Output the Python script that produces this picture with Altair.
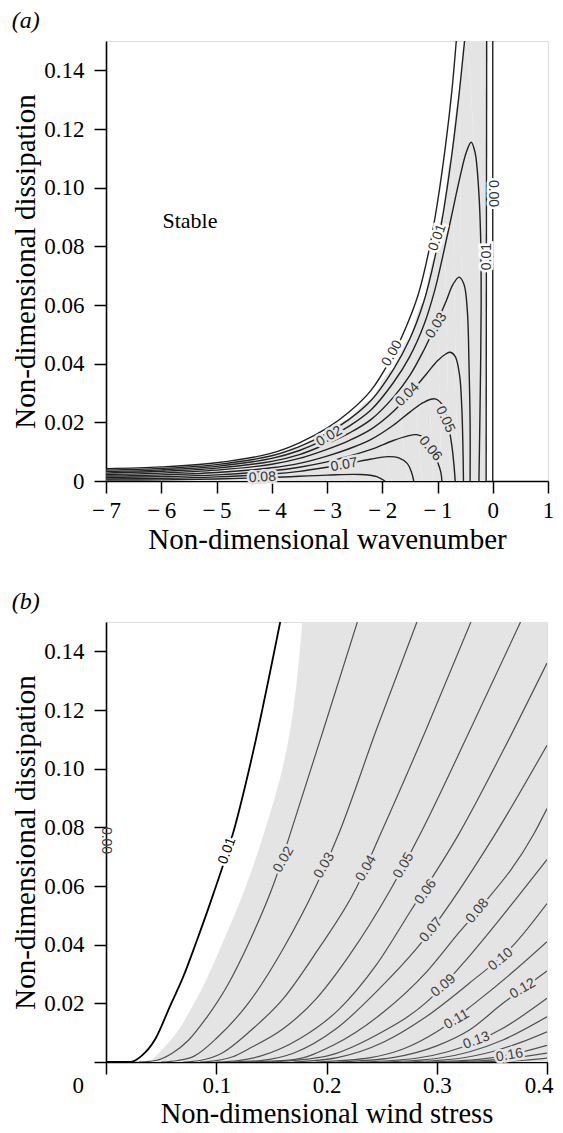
import altair as alt
import pandas as pd

SERIF = "Liberation Serif"
SANS = "Liberation Sans"
SHADE = "#e4e4e4"

# ---------------- Panel (a): growth-rate contours ----------------
A00L_X = [-7.0, -6.0, -5.0, -4.0, -3.5, -3.0, -2.6, -2.2, -1.82, -1.58, -1.35, -1.15, -1.0, -0.85, -0.74, -0.66]
A00L_Y = [0.0042, 0.0048, 0.0062, 0.0095, 0.013, 0.018, 0.0235, 0.031, 0.0425, 0.052, 0.0635, 0.079, 0.095, 0.115, 0.133, 0.15]
A00R_X = [0.0, 0.0]
A00R_Y = [0.15, 0.0]
A01L_X = [-7.0, -6.0, -5.0, -4.0, -3.5, -3.0, -2.6, -2.2, -1.8, -1.5, -1.25, -1.05, -0.9, -0.75, -0.62, -0.51]
A01L_Y = [0.0037, 0.0043, 0.0056, 0.0086, 0.0117, 0.0162, 0.021, 0.0275, 0.038, 0.0485, 0.061, 0.076, 0.091, 0.11, 0.13, 0.15]
A01R_X = [-0.11, -0.12]
A01R_Y = [0.15, 0.0]
A02_X = [-7.0, -6.0, -5.0, -4.0, -3.5, -3.0, -2.6, -2.2, -1.8, -1.5, -1.25, -1.05, -0.9, -0.75, -0.6, -0.48, -0.39, -0.32, -0.26, -0.22, -0.21, -0.23, -0.25]
A02_Y = [0.0032, 0.0038, 0.005, 0.0077, 0.0104, 0.0145, 0.0187, 0.0243, 0.0335, 0.0425, 0.053, 0.065, 0.077, 0.09, 0.103, 0.112, 0.1155, 0.112, 0.1008, 0.0837, 0.06, 0.025, 0.0]
A03_X = [-7.0, -6.0, -5.0, -4.0, -3.5, -3.0, -2.6, -2.2, -1.8, -1.5, -1.25, -1.0, -0.85, -0.72, -0.61, -0.52, -0.46, -0.43, -0.41, -0.41]
A03_Y = [0.0027, 0.0033, 0.0044, 0.0067, 0.009, 0.0127, 0.0163, 0.021, 0.0285, 0.036, 0.0445, 0.0545, 0.061, 0.067, 0.0695, 0.067, 0.058, 0.04, 0.02, 0.0]
A04_X = [-7.0, -6.0, -5.0, -4.0, -3.5, -3.0, -2.6, -2.2, -1.8, -1.5, -1.2, -1.0, -0.85, -0.77, -0.68, -0.6, -0.56, -0.54, -0.53]
A04_Y = [0.0022, 0.0027, 0.0037, 0.0057, 0.0077, 0.0108, 0.0138, 0.0177, 0.0237, 0.0298, 0.0365, 0.041, 0.0433, 0.0439, 0.0425, 0.036, 0.025, 0.012, 0.0]
A05_X = [-7.0, -6.0, -5.0, -4.0, -3.5, -3.0, -2.6, -2.2, -1.8, -1.5, -1.25, -1.05, -0.92, -0.82, -0.74, -0.7, -0.68]
A05_Y = [0.0017, 0.0021, 0.0029, 0.0045, 0.006, 0.0085, 0.011, 0.0142, 0.019, 0.0235, 0.0268, 0.028, 0.0262, 0.0205, 0.012, 0.005, 0.0]
A06_X = [-7.0, -6.0, -5.0, -4.0, -3.5, -3.0, -2.6, -2.2, -1.8, -1.55, -1.38, -1.22, -1.1, -1.0, -0.94, -0.92]
A06_Y = [0.0012, 0.0015, 0.0021, 0.0035, 0.0047, 0.0065, 0.0085, 0.0108, 0.0138, 0.0153, 0.0158, 0.0145, 0.011, 0.0065, 0.003, 0.0]
A07_X = [-7.0, -6.0, -5.0, -4.0, -3.5, -3.0, -2.6, -2.2, -1.9, -1.7, -1.55, -1.47, -1.43]
A07_Y = [0.0007, 0.0009, 0.0014, 0.0024, 0.0033, 0.0047, 0.006, 0.0075, 0.0083, 0.0079, 0.006, 0.003, 0.0]
A08_X = [-7.0, -6.0, -5.0, -4.0, -3.0, -2.4, -2.1, -1.95]
A08_Y = [0.0003, 0.0004, 0.0007, 0.0012, 0.002, 0.0022, 0.0015, 0.0]

A_LAB_T = ["0.00", "0.01", "0.00", "0.01", "0.02", "0.03", "0.04", "0.05", "0.06", "0.07", "0.08"]
A_LAB_X = [0.0, -0.11, -1.82, -1.0, -2.96, -1.02, -1.54, -0.86, -1.13, -2.69, -4.17]
A_LAB_Y = [0.098, 0.0765, 0.0435, 0.083, 0.0152, 0.053, 0.0295, 0.021, 0.011, 0.0055, 0.0012]
A_LAB_ANG = [90, 270, 300, 290, 330, 302, 315, 65, 50, 350, 357]

STABLE_T = ["Stable"]
STABLE_X = [-5.48]
STABLE_Y = [0.0887]

A_XTICKS = [-7, -6, -5, -4, -3, -2, -1, 0, 1]
A_YTICKS = [0, 0.02, 0.04, 0.06, 0.08, 0.10, 0.12, 0.14]

# ---------------- Panel (b): contours vs wind stress ----------------
B01_X = [0.0, 0.022, 0.032, 0.045, 0.058, 0.07, 0.082, 0.098, 0.116, 0.131, 0.158]
B01_Y = [0.0, 0.0, 0.002, 0.008, 0.019, 0.029, 0.041, 0.058, 0.079, 0.1017, 0.15]
B02_X = [0.03, 0.045, 0.06, 0.075, 0.09, 0.11, 0.13, 0.153, 0.167, 0.197, 0.228]
B02_Y = [0.0, 0.0005, 0.003, 0.0075, 0.0145, 0.026, 0.041, 0.0616, 0.0777, 0.113, 0.15]
B03_X = [0.05, 0.065, 0.08, 0.1, 0.13, 0.161, 0.191, 0.211, 0.245, 0.282]
B03_Y = [0.0, 0.0005, 0.002, 0.008, 0.0205, 0.0388, 0.0604, 0.0777, 0.113, 0.15]
B04_X = [0.07, 0.085, 0.105, 0.13, 0.161, 0.191, 0.227, 0.249, 0.29, 0.331]
B04_Y = [0.0, 0.0005, 0.003, 0.0103, 0.0217, 0.0376, 0.0593, 0.0777, 0.113, 0.15]
B05_X = [0.085, 0.1, 0.115, 0.13, 0.161, 0.191, 0.221, 0.258, 0.285, 0.33, 0.376]
B05_Y = [0.0, 0.0005, 0.0018, 0.0046, 0.0114, 0.0217, 0.0365, 0.0587, 0.0777, 0.113, 0.15]
B06_X = [0.1, 0.12, 0.14, 0.176, 0.212, 0.245, 0.276, 0.32, 0.36, 0.4]
B06_Y = [0.0, 0.0005, 0.002, 0.008, 0.0182, 0.033, 0.0513, 0.0777, 0.106, 0.136]
B07_X = [0.115, 0.14, 0.17, 0.209, 0.248, 0.282, 0.353, 0.4]
B07_Y = [0.0, 0.0005, 0.003, 0.0114, 0.025, 0.0388, 0.0777, 0.108]
B08_X = [0.13, 0.17, 0.206, 0.252, 0.291, 0.321, 0.337, 0.388, 0.4]
B08_Y = [0.0, 0.0008, 0.0057, 0.0171, 0.0308, 0.0445, 0.0515, 0.0777, 0.0864]
B09_X = [0.15, 0.2, 0.245, 0.291, 0.324, 0.36, 0.4]
B09_Y = [0.0, 0.002, 0.0091, 0.0205, 0.0337, 0.05, 0.069]
B10_X = [0.17, 0.21, 0.252, 0.288, 0.33, 0.37, 0.4]
B10_Y = [0.0, 0.0015, 0.0068, 0.0148, 0.027, 0.04, 0.054]
B11_X = [0.19, 0.24, 0.27, 0.3, 0.336, 0.37, 0.4]
B11_Y = [0.0, 0.0015, 0.0045, 0.0103, 0.0205, 0.031, 0.041]
B12_X = [0.21, 0.26, 0.3, 0.33, 0.36, 0.38, 0.4]
B12_Y = [0.0, 0.0015, 0.0055, 0.011, 0.02, 0.0255, 0.031]
B13_X = [0.23, 0.28, 0.31, 0.336, 0.36, 0.4]
B13_Y = [0.0, 0.0012, 0.0035, 0.007, 0.0115, 0.0217]
B14_X = [0.25, 0.3, 0.33, 0.36, 0.4]
B14_Y = [0.0, 0.0012, 0.0035, 0.0075, 0.0154]
B15_X = [0.27, 0.32, 0.35, 0.375, 0.4]
B15_Y = [0.0, 0.0012, 0.0035, 0.0065, 0.0103]
B16_X = [0.29, 0.34, 0.37, 0.4]
B16_Y = [0.0, 0.001, 0.0028, 0.0057]
B17_X = [0.31, 0.36, 0.4]
B17_Y = [0.0, 0.001, 0.003]
B18_X = [0.33, 0.38, 0.4]
B18_Y = [0.0, 0.0006, 0.0013]

B_SHADE_X = [0.04, 0.06, 0.08, 0.105, 0.127, 0.145, 0.16, 0.178]
B_SHADE_Y = [0.0, 0.008, 0.02, 0.04, 0.06, 0.08, 0.1, 0.15]

B_LAB_T = ["0.01", "0.02", "0.03", "0.04", "0.05", "0.06", "0.07", "0.08", "0.09", "0.10", "0.11", "0.12", "0.13", "0.16", "0.00"]
B_LAB_X = [0.110, 0.161, 0.198, 0.236, 0.27, 0.29, 0.295, 0.337, 0.306, 0.358, 0.318, 0.378, 0.336, 0.366, 0.0]
B_LAB_Y = [0.072, 0.069, 0.067, 0.066, 0.067, 0.058, 0.045, 0.0515, 0.026, 0.035, 0.0145, 0.025, 0.0073, 0.0023, 0.0755]
B_LAB_ANG = [290, 300, 300, 300, 300, 305, 310, 310, 320, 320, 330, 330, 340, 350, 90]

B_XTICKS = [0, 0.1, 0.2, 0.3, 0.4]
B_YTICKS = [0, 0.02, 0.04, 0.06, 0.08, 0.10, 0.12, 0.14]


def seg_rows(seg, xs, ys):
    return [{"seg": seg, "i": i, "x": x, "y": y} for i, (x, y) in enumerate(zip(xs, ys))]


a_lines = pd.DataFrame(
    seg_rows("a00l", A00L_X, A00L_Y) + seg_rows("a00r", A00R_X, A00R_Y)
    + seg_rows("a01l", A01L_X, A01L_Y) + seg_rows("a01r", A01R_X, A01R_Y)
    + seg_rows("a02", A02_X, A02_Y) + seg_rows("a03", A03_X, A03_Y)
    + seg_rows("a04", A04_X, A04_Y) + seg_rows("a05", A05_X, A05_Y)
    + seg_rows("a06", A06_X, A06_Y) + seg_rows("a07", A07_X, A07_Y)
    + seg_rows("a08", A08_X, A08_Y)
)
# shaded region: inside the 0.01 contour
a_shade = pd.DataFrame(seg_rows("shade", A01L_X + [A01R_X[0]], A01L_Y + [A01R_Y[0]]))
a_labels = pd.DataFrame({"t": A_LAB_T, "x": A_LAB_X, "y": A_LAB_Y, "ang": A_LAB_ANG})
a_stable = pd.DataFrame({"t": STABLE_T, "x": STABLE_X, "y": STABLE_Y})

b_first = pd.DataFrame(seg_rows("b01", B01_X, B01_Y))
b_rest = pd.DataFrame(
    seg_rows("b02", B02_X, B02_Y) + seg_rows("b03", B03_X, B03_Y) + seg_rows("b04", B04_X, B04_Y)
    + seg_rows("b05", B05_X, B05_Y) + seg_rows("b06", B06_X, B06_Y) + seg_rows("b07", B07_X, B07_Y)
    + seg_rows("b08", B08_X, B08_Y) + seg_rows("b09", B09_X, B09_Y) + seg_rows("b10", B10_X, B10_Y)
    + seg_rows("b11", B11_X, B11_Y) + seg_rows("b12", B12_X, B12_Y) + seg_rows("b13", B13_X, B13_Y)
    + seg_rows("b14", B14_X, B14_Y) + seg_rows("b15", B15_X, B15_Y) + seg_rows("b16", B16_X, B16_Y)
    + seg_rows("b17", B17_X, B17_Y) + seg_rows("b18", B18_X, B18_Y)
)
b_shade = pd.DataFrame({"x": B_SHADE_X, "y": B_SHADE_Y})
b_labels = pd.DataFrame({"t": B_LAB_T, "x": B_LAB_X, "y": B_LAB_Y, "ang": B_LAB_ANG})

# ---------------- axes ----------------
AXIS_COMMON = dict(
    grid=False, domainColor="black", domainWidth=1.6, tickColor="black", tickWidth=1.5,
    tickSize=12, labelFont=SERIF, labelFontSize=23, labelColor="black",
    titleFont=SERIF, titleFontWeight="normal", titleColor="black", labelOverlap=False,
)

xa = alt.X("x:Q", scale=alt.Scale(domain=[-7, 1], nice=False, zero=False),
           axis=alt.Axis(title="Non-dimensional wavenumber", values=A_XTICKS,
                         labelExpr="datum.value < 0 ? '\u2212\u2009' + abs(datum.value) : '' + datum.value",
                         labelFlush=False, labelPadding=6, titlePadding=3, titleFontSize=29,
                         **AXIS_COMMON))
ya = alt.Y("y:Q", scale=alt.Scale(domain=[0, 0.15], nice=False, zero=False),
           axis=alt.Axis(title="Non-dimensional dissipation", values=A_YTICKS,
                         labelExpr="datum.value == 0 ? '0' : format(datum.value, '.2f')",
                         labelFlush=False, labelPadding=10, titlePadding=3, titleFontSize=29,
                         **AXIS_COMMON))

xb = alt.X("x:Q", scale=alt.Scale(domain=[0, 0.4], nice=False, zero=False),
           axis=alt.Axis(title="Non-dimensional wind stress", values=B_XTICKS,
                         labelExpr="datum.value == 0 ? '0' : format(datum.value, '.1f')",
                         labelFlush=True, labelFlushOffset=6,
                         labelOffset={"condition": {"test": "datum.value == 0", "value": -28}, "value": 0},
                         labelPadding=0, titlePadding=2, titleFontSize=28.5, **AXIS_COMMON))
yb = alt.Y("y:Q", scale=alt.Scale(domain=[0, 0.15], nice=False, zero=False),
           axis=alt.Axis(title="Non-dimensional dissipation", values=B_YTICKS,
                         labelExpr="datum.value == 0 ? '' : format(datum.value, '.2f')",
                         labelFlush=False, labelPadding=10, titlePadding=3, titleFontSize=29,
                         **AXIS_COMMON))

ANG = alt.Angle("ang:Q", scale=None)
LAB_SIZE = 14

# ---------------- panel (a) ----------------
shade_a = alt.Chart(a_shade).mark_area(color=SHADE, interpolate="monotone", clip=True).encode(
    x=xa, y=ya, order="i:Q")
lines_a = alt.Chart(a_lines).mark_line(color="#222222", strokeWidth=1.4, interpolate="catmull-rom",
                                       clip=True).encode(x=xa, y=ya, detail="seg:N", order="i:Q")
halo_a = alt.Chart(a_labels).mark_text(font=SANS, fontSize=LAB_SIZE, strokeWidth=5, align="center",
                                       baseline="middle").encode(
    x=xa, y=ya, text="t:N", angle=ANG,
    stroke=alt.condition("datum.t == '0.00' || datum.t == '0.01'", alt.value("white"), alt.value(SHADE)),
    fill=alt.condition("datum.t == '0.00' || datum.t == '0.01'", alt.value("white"), alt.value(SHADE)))
text_a = alt.Chart(a_labels).mark_text(font=SANS, fontSize=LAB_SIZE, color="#333333", align="center",
                                       baseline="middle").encode(x=xa, y=ya, text="t:N", angle=ANG)
stable = alt.Chart(a_stable).mark_text(font=SERIF, fontSize=22, color="black", align="center",
                                       baseline="middle").encode(x=xa, y=ya, text="t:N")

panel_a = alt.layer(shade_a, lines_a, halo_a, text_a, stable).properties(
    width=442, height=440,
    title=alt.TitleParams("(a)", anchor="start", font=SERIF, fontSize=24, fontStyle="italic",
                          fontWeight="normal", color="black", offset=8))

# ---------------- panel (b) ----------------
shade_b = alt.Chart(b_shade).mark_area(color=SHADE, interpolate="monotone", orient="horizontal",
                                       clip=True).encode(y=yb, x=xb, x2=alt.datum(0.4))
lines_b1 = alt.Chart(b_first).mark_line(color="black", strokeWidth=1.8, interpolate="monotone",
                                        clip=True).encode(x=xb, y=yb, detail="seg:N", order="i:Q")
lines_b = alt.Chart(b_rest).mark_line(color="#505050", strokeWidth=1.2, interpolate="monotone",
                                      clip=True).encode(x=xb, y=yb, detail="seg:N", order="i:Q")
halo_b = alt.Chart(b_labels).transform_filter("datum.t != '0.00'").mark_text(
    font=SANS, fontSize=LAB_SIZE, strokeWidth=5, align="center", baseline="middle").encode(
    x=xb, y=yb, text="t:N", angle=ANG,
    stroke=alt.condition("datum.t == '0.01'", alt.value("white"), alt.value(SHADE)),
    fill=alt.condition("datum.t == '0.01'", alt.value("white"), alt.value(SHADE)))
text_b = alt.Chart(b_labels).mark_text(font=SANS, fontSize=LAB_SIZE, align="center",
                                       baseline="middle").encode(
    x=xb, y=yb, text="t:N", angle=ANG,
    color=alt.condition("datum.t == '0.01'", alt.value("black"), alt.value("#404040")))

panel_b = alt.layer(shade_b, lines_b, lines_b1, halo_b, text_b).properties(
    width=441, height=440,
    title=alt.TitleParams("(b)", anchor="start", font=SERIF, fontSize=24, fontStyle="italic",
                          fontWeight="normal", color="black", offset=8))

chart = alt.vconcat(panel_a, panel_b, spacing=34).properties(
    padding={"left": 3, "top": 0, "right": 0, "bottom": 0}
).configure_view(stroke=None).configure(background="white")

chart.save("out.html", embed_options={"renderer": "svg", "actions": False})
